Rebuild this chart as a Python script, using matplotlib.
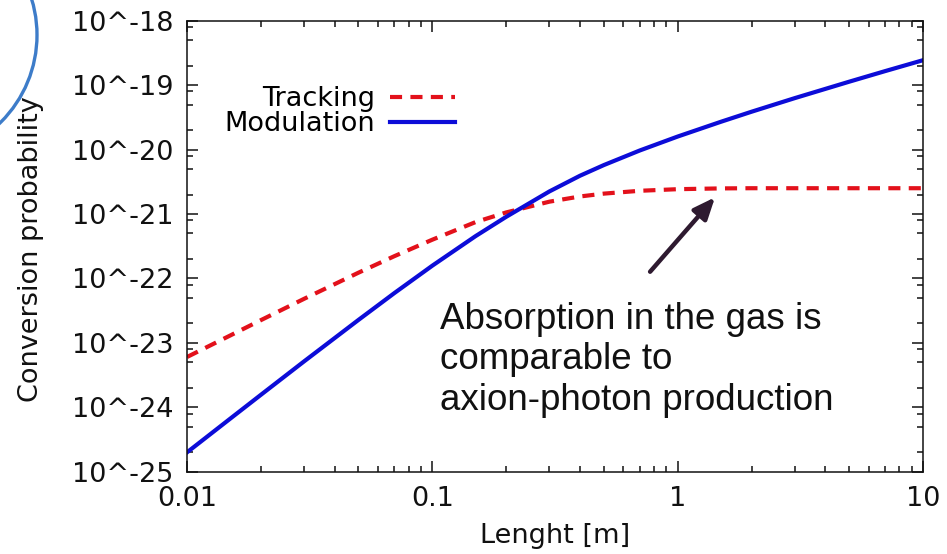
import matplotlib
matplotlib.use("Agg")
import matplotlib.pyplot as plt
import numpy as np
from matplotlib.ticker import FixedLocator, FixedFormatter, NullFormatter
from matplotlib.patches import Ellipse

# ---- data (log10 of probability) ----
length_m = [0.01, 0.015, 0.02, 0.03, 0.05, 0.07, 0.1, 0.15, 0.2, 0.3,
            0.4, 0.5, 0.7, 1.0, 1.5, 2.0, 3.0, 5.0, 7.0, 10.0]
tracking_log = [-23.22, -22.886, -22.648, -22.317, -21.911, -21.655, -21.399, -21.126,
                -20.976, -20.809, -20.728, -20.684, -20.640, -20.615, -20.603, -20.600,
                -20.600, -20.600, -20.600, -20.600]
modulation_log = [-24.70, -24.177, -23.807, -23.288, -22.644, -22.228, -21.802, -21.344,
                  -21.044, -20.650, -20.406, -20.241, -20.015, -19.798, -19.569, -19.413,
                  -19.202, -18.947, -18.783, -18.613]
series_labels = ["Tracking", "Modulation"]
x_ticks = [0.01, 0.1, 1, 10]
x_tick_labels = ["0.01", "0.1", "1", "10"]
y_exponents = [-25, -24, -23, -22, -21, -20, -19, -18]
y_tick_labels = ["10^%d" % e for e in y_exponents]
note_text = "Absorption in the gas is\ncomparable to\naxion-photon production"

tracking = [10.0 ** v for v in tracking_log]
modulation = [10.0 ** v for v in modulation_log]

plt.rcParams['font.family'] = ['DejaVu Sans']
W, H = 947, 554
fig = plt.figure(figsize=(W / 100, H / 100), dpi=100)
ax = fig.add_axes([187 / W, 1 - 471.7 / H, (923 - 187) / W, (471.7 - 20.7) / H])

red = '#e3111b'
blue = '#0c0cd8'
lt, = ax.plot(length_m, tracking, color=red, lw=3.0, dashes=(2.9, 2.0),
              dash_capstyle='butt', label=series_labels[0])
lm, = ax.plot(length_m, modulation, color=blue, lw=3.0, label=series_labels[1])

ax.set_xscale('log')
ax.set_yscale('log')
ax.set_xlim(0.01, 10)
ax.set_ylim(1e-25, 1e-18)

ax.xaxis.set_major_locator(FixedLocator(x_ticks))
ax.xaxis.set_major_formatter(FixedFormatter(x_tick_labels))
xminor = [m * 10.0 ** d for d in range(-2, 1) for m in range(2, 10)]
ax.xaxis.set_minor_locator(FixedLocator(xminor))
ax.xaxis.set_minor_formatter(NullFormatter())

yticks = [10.0 ** e for e in y_exponents]
ax.yaxis.set_major_locator(FixedLocator(yticks))
ax.yaxis.set_major_formatter(FixedFormatter(y_tick_labels))
yminor = [m * 10.0 ** d for d in range(-25, -18) for m in (2, 5, 8)]
ax.yaxis.set_minor_locator(FixedLocator(yminor))
ax.yaxis.set_minor_formatter(NullFormatter())

ax.tick_params(which='both', direction='in', top=True, right=True,
               width=1.1, colors='#111111', labelsize=19.5)
ax.tick_params(which='major', length=8)
ax.tick_params(which='minor', length=4)
ax.tick_params(axis='y', which='major', pad=10)
ax.tick_params(axis='x', which='major', pad=10)
for s in ax.spines.values():
    s.set_linewidth(1.1)
    s.set_color('#111111')

fig.text(555 / W, 1 - 536 / H, "Lenght [m]", ha='center', va='center',
         fontsize=19.5, color='#111111')
fig.text(31 / W, 1 - 249 / H, "Conversion probability", ha='center', va='center',
         rotation=90, fontsize=19.5, color='#111111')

leg = ax.legend(handles=[lt, lm], loc='upper right', markerfirst=False,
                frameon=False, fontsize=19.5, handlelength=2.4, handletextpad=0.55,
                labelspacing=-0.02, borderpad=0, borderaxespad=0,
                bbox_to_anchor=(455 / W, 1 - 86 / H), bbox_transform=fig.transFigure)

ax.annotate("", xy=(1.42, 1.815e-21), xytext=(0.772, 1.27e-22),
            arrowprops=dict(arrowstyle='-|>,head_length=1.3,head_width=0.55',
                            color='#2e1a30', lw=3.2, shrinkA=0, shrinkB=0))

fig.text(440 / W, 1 - 302 / H, note_text, ha='left', va='top',
         family=['Liberation Sans', 'DejaVu Sans'], fontsize=26.5,
         linespacing=1.2, color='#111111')

r = 123.0
arc = Ellipse((-86 / W, 1 - 35 / H), 2 * r / W, 2 * r / H, transform=fig.transFigure,
              fill=False, edgecolor='#3d7cc9', lw=2.4, clip_on=False)
fig.add_artist(arc)

fig.savefig("out.png", dpi=100, facecolor='white')
